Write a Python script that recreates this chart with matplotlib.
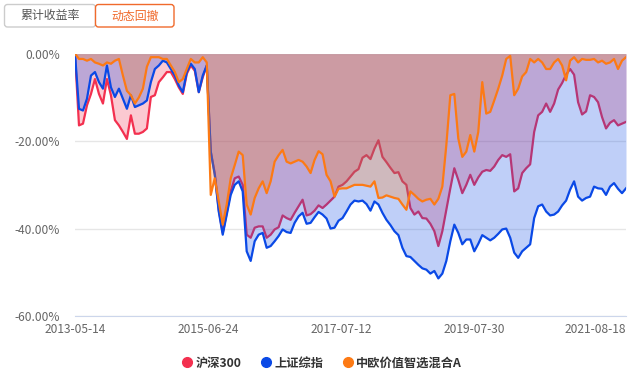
import numpy as np
import matplotlib
matplotlib.use("Agg")
import matplotlib.pyplot as plt
from matplotlib.patches import FancyBboxPatch
from matplotlib.lines import Line2D
from matplotlib.transforms import IdentityTransform, ScaledTranslation

plt.rcParams["font.family"] = ["Noto Sans CJK SC", "DejaVu Sans"]

# drawdown (%), evenly spaced samples over the trading days
hs300 = [0.0, -16.4, -16.0, -11.8, -9.2, -5.8, -9.2, -11.4, -5.8, -9.5,
         -15.2, -16.4, -17.9, -19.5, -14.1, -18.3, -18.3, -17.9, -17.1, -9.9,
         -9.5, -6.5, -5.4, -4.2, -4.2, -5.8, -7.7, -9.2, -4.6, -2.7,
         -3.9, -8.8, -5.4, -2.7, -22.4, -27.3, -35.7, -41.0, -36.4, -31.5,
         -28.5, -28.1, -30.0, -41.4, -42.1, -39.8, -39.5, -39.5, -42.1, -41.4,
         -40.2, -39.7, -37.0, -37.6, -38.0, -36.4, -34.9, -33.4, -37.0, -36.7,
         -35.9, -34.7, -35.3, -34.5, -33.6, -32.7, -30.4, -30.0, -29.2, -28.1,
         -27.0, -26.4, -23.8, -23.2, -24.1, -21.7, -19.8, -23.6, -24.8, -26.1,
         -27.3, -27.1, -29.2, -30.0, -35.3, -36.8, -36.1, -37.6, -37.7, -38.9,
         -40.6, -44.0, -40.6, -35.7, -30.8, -26.2, -28.9, -31.9, -30.0, -27.7,
         -30.0, -28.3, -27.0, -26.6, -26.8, -25.8, -24.3, -23.2, -23.6, -23.0,
         -31.5, -30.8, -27.3, -26.2, -25.3, -17.9, -14.1, -13.3, -11.4, -13.3,
         -11.4, -8.2, -6.7, -4.8, -3.5, -4.8, -11.1, -13.9, -13.2, -9.5,
         -9.9, -11.1, -14.5, -17.1, -15.8, -15.2, -16.4, -16.0, -15.6]

szzs = [0.0, -12.6, -13.0, -10.3, -5.0, -4.2, -6.5, -8.0, -2.7, -7.7,
        -9.9, -8.0, -10.3, -12.6, -9.5, -12.2, -11.8, -11.4, -10.7, -6.5,
        -3.5, -2.7, -1.6, -2.0, -3.5, -5.0, -7.3, -8.8, -4.2, -2.3,
        -3.5, -8.8, -5.0, -2.7, -22.4, -27.7, -36.1, -41.4, -36.8, -32.3,
        -30.0, -29.2, -31.5, -45.2, -47.4, -42.9, -41.4, -41.0, -44.4, -44.0,
        -42.9, -41.7, -40.2, -40.8, -41.0, -38.7, -37.2, -36.4, -38.9, -38.7,
        -37.4, -36.2, -36.8, -37.7, -40.0, -39.8, -38.2, -37.6, -36.1, -34.5,
        -33.6, -33.8, -33.6, -34.4, -35.9, -33.8, -34.5, -36.4, -38.0, -39.2,
        -40.6, -41.5, -44.4, -46.3, -46.5, -47.4, -48.3, -49.1, -49.4, -50.3,
        -49.7, -51.4, -50.3, -47.4, -42.9, -39.1, -41.0, -43.6, -42.5, -42.5,
        -45.2, -43.5, -41.5, -42.1, -42.7, -42.1, -41.2, -40.2, -40.0, -42.1,
        -45.5, -46.7, -45.2, -44.4, -43.6, -37.6, -34.9, -34.5, -36.1, -37.0,
        -36.8, -36.1, -34.7, -33.6, -31.1, -29.2, -32.7, -33.6, -33.0, -32.7,
        -30.4, -30.8, -30.9, -32.3, -30.4, -29.6, -30.9, -31.9, -30.8]

zoeu = [0.0, -1.2, -1.2, -1.6, -1.2, -2.0, -2.3, -2.7, -2.0, -2.3,
        -1.6, -1.2, -5.0, -8.5, -9.5, -11.4, -10.0, -8.0, -3.0, -0.8,
        -0.8, -0.8, -1.2, -1.2, -2.7, -4.2, -6.5, -5.8, -3.5, -1.2,
        -2.0, -2.0, -0.8, -2.0, -32.3, -28.5, -33.8, -39.1, -34.5, -28.5,
        -25.5, -22.4, -23.2, -34.5, -36.8, -33.0, -30.8, -29.2, -31.9, -29.2,
        -24.7, -23.2, -22.0, -24.7, -25.1, -24.7, -24.3, -24.7, -25.8, -27.3,
        -24.3, -22.3, -23.0, -27.7, -29.2, -32.7, -30.9, -30.8, -30.8, -30.4,
        -30.0, -30.0, -30.0, -30.2, -30.4, -29.2, -33.0, -32.9, -32.4, -32.7,
        -33.0, -33.2, -34.5, -35.7, -31.5, -32.3, -33.2, -33.8, -33.4, -33.2,
        -34.5, -33.2, -30.4, -20.9, -9.5, -9.2, -19.4, -23.6, -22.4, -18.6,
        -22.4, -17.9, -6.5, -13.7, -13.3, -10.7, -8.0, -5.0, -1.2, -0.5,
        -9.5, -8.0, -5.2, -4.2, -1.2, -2.0, -1.2, -2.0, -3.5, -3.5,
        -2.0, -1.2, -2.7, -6.1, -1.6, -0.8, -2.0, -1.2, -1.4, -1.4,
        -1.2, -2.0, -1.6, -2.3, -2.0, -1.2, -3.5, -1.6, -0.8]

n_days = 2071
tick_days = [0, 500, 1000, 1500, 2000]
tick_labels = ["2013-05-14", "2015-06-24", "2017-07-12", "2019-07-30", "2021-08-18"]
ytick_vals = [0, -20, -40, -60]

names = ["沪深300", "上证综指", "中欧价值智选混合A"]
colors = ["#f3304f", "#0a49e6", "#fd7a14"]

W, H = 644, 382
fig = plt.figure(figsize=(W / 100, H / 100), dpi=100)
ax = fig.add_axes([75 / W, 1 - 316 / H, 551 / W, (316 - 53.7) / H])

x = np.linspace(0, n_days, len(hs300))
for i, (vals, c) in enumerate(zip([hs300, szzs, zoeu], colors)):
    ax.fill_between(x, 0, vals, color=c, alpha=0.26, lw=0, zorder=2 + i)
    ax.plot(x, vals, color=c, lw=1.6, zorder=2 + i)

ax.set_xlim(0, n_days)
ax.set_ylim(-60, 0)
ax.set_yticks(ytick_vals, [f"{v:.2f}%" for v in ytick_vals])
ax.set_xticks(tick_days, tick_labels)
ax.grid(axis="y", color="#e6e6e6", lw=1, zorder=0)
ax.set_axisbelow(True)
for s in ["top", "left", "right"]:
    ax.spines[s].set_visible(False)
ax.spines["bottom"].set_color("#ccd6eb")
ax.spines["bottom"].set_zorder(1)
ax.tick_params(axis="y", length=0, pad=11, labelsize=8.6, colors="#666666")
ax.tick_params(axis="x", length=0, pad=5, labelsize=8.6, colors="#666666")
# last label is pushed back inside the plot area
last = ax.get_xticklabels()[-1]
last.set_ha("right")
last.set_transform(last.get_transform() + ScaledTranslation(0.19, 0, fig.dpi_scale_trans))

# switch buttons at the top
ident = IdentityTransform()
fig.patches.append(FancyBboxPatch((4.5, H - 27), 91, 22.5, boxstyle="round,pad=0,rounding_size=3",
                                  fc="white", ec="#cccccc", lw=1, transform=ident))
fig.patches.append(FancyBboxPatch((95.5, H - 27), 78.5, 22.5, boxstyle="round,pad=0,rounding_size=3",
                                  fc="white", ec="#f06a2c", lw=1, transform=ident))
fig.text(50 / W, 1 - 16 / H, "累计收益率", ha="center", va="center", fontsize=8.6, color="#555555")
fig.text(135 / W, 1 - 16 / H, "动态回撤", ha="center", va="center", fontsize=8.6, color="#f06a2c")

handles = [Line2D([], [], ls="none", marker="o", ms=7, color=c) for c in colors]
leg = fig.legend(handles, names, loc="center", bbox_to_anchor=(322 / W, 1 - 363 / H), ncol=3,
                 frameon=False, handlelength=0.8, handletextpad=0.3, columnspacing=1.6,
                 prop={"size": 8.8, "weight": "bold"})
for t in leg.get_texts():
    t.set_color("#333333")

fig.savefig("out.png", dpi=100)
